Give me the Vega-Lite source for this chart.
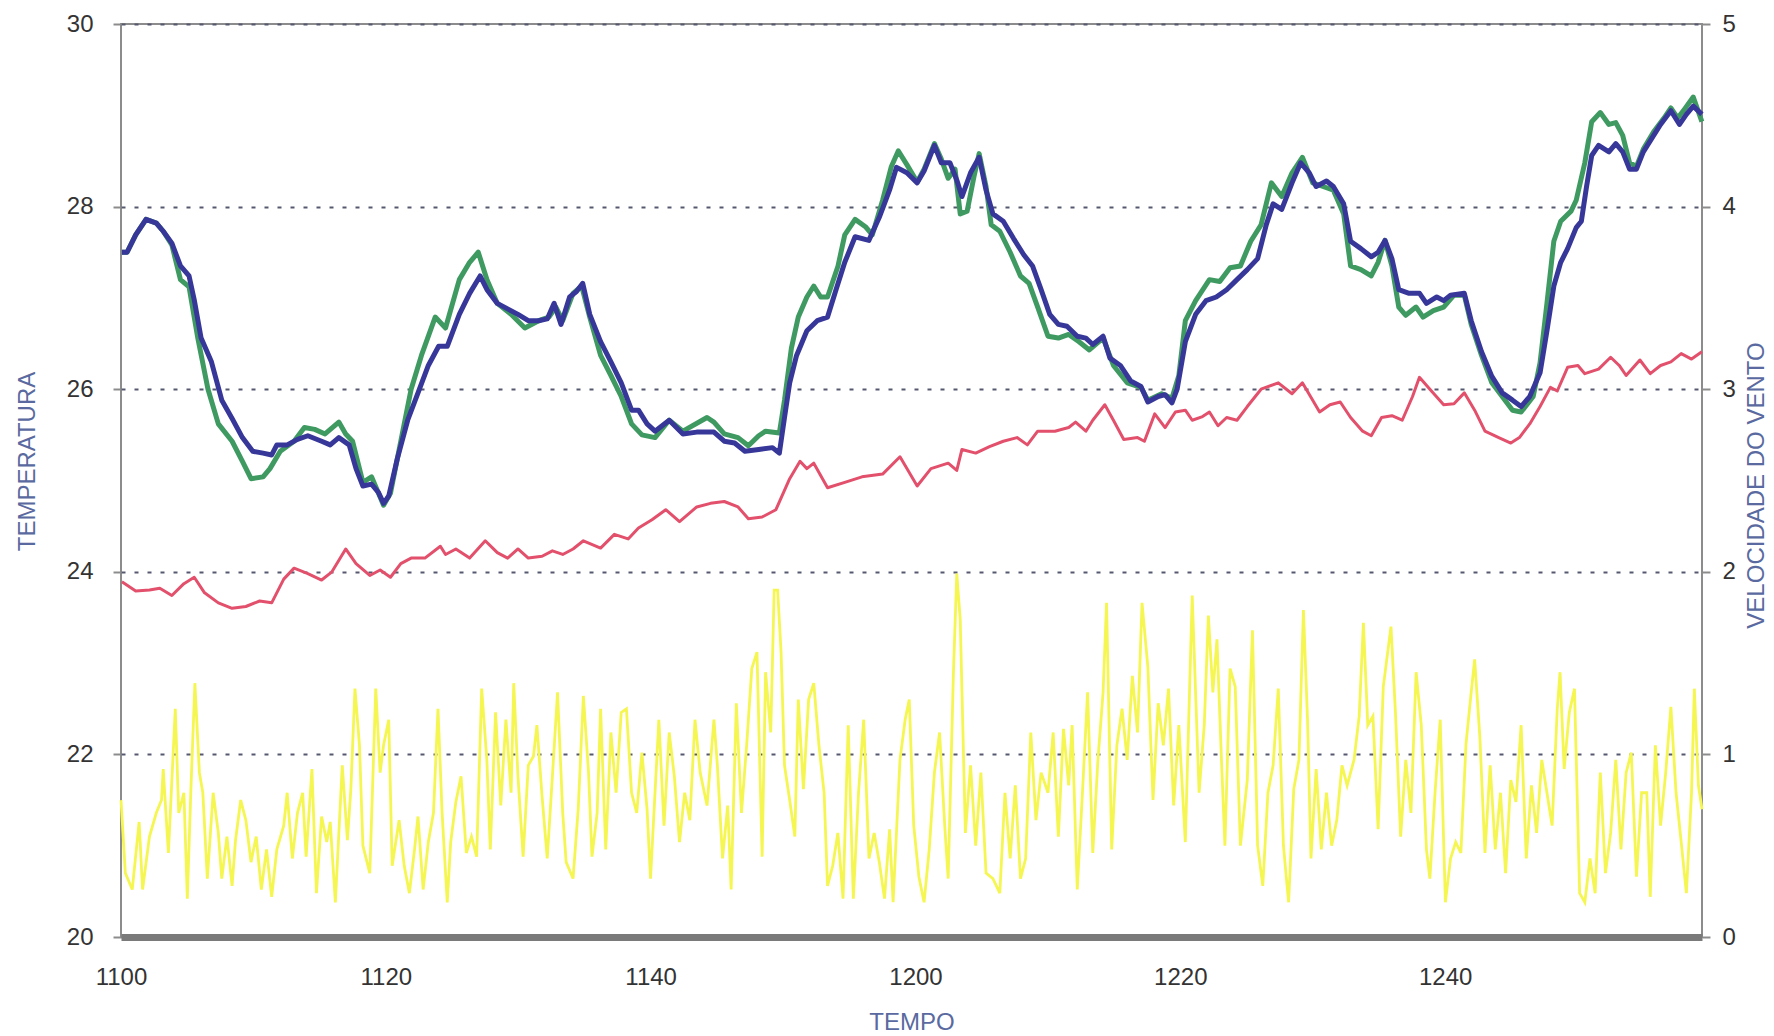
{
"$schema":"https://vega.github.io/schema/vega-lite/v6.json",
"width":1581,"height":913,
"autosize":{"type":"none"},
"padding":{"left":121,"top":24,"right":72,"bottom":99},
"background":"#ffffff",
"config":{"view":{"stroke":"#8c8c8c","strokeWidth":2},"font":"Liberation Sans"},
"datasets":{
"vento":[
{"t":0,"vento":0.75},{"t":0.33,"vento":0.35},{"t":0.85,"vento":0.26},{"t":1.37,"vento":0.63},{"t":1.63,"vento":0.26},{"t":2.15,"vento":0.55},{"t":2.67,"vento":0.68},{"t":3.06,"vento":0.75},{"t":3.19,"vento":0.92},{"t":3.58,"vento":0.46},{"t":4.10,"vento":1.25},{"t":4.36,"vento":0.68},{"t":4.75,"vento":0.79},{"t":5.01,"vento":0.21},{"t":5.27,"vento":0.79},{"t":5.58,"vento":1.39},{"t":5.92,"vento":0.90},{"t":6.18,"vento":0.79},{"t":6.52,"vento":0.32},{"t":6.96,"vento":0.79},{"t":7.35,"vento":0.57},{"t":7.61,"vento":0.32},{"t":8.00,"vento":0.55},{"t":8.39,"vento":0.28},{"t":8.65,"vento":0.53},{"t":9.04,"vento":0.75},{"t":9.43,"vento":0.64},{"t":9.82,"vento":0.41},{"t":10.21,"vento":0.55},{"t":10.60,"vento":0.26},{"t":10.99,"vento":0.48},{"t":11.38,"vento":0.22},{"t":11.77,"vento":0.48},{"t":12.29,"vento":0.61},{"t":12.55,"vento":0.79},{"t":12.94,"vento":0.43},{"t":13.33,"vento":0.68},{"t":13.72,"vento":0.79},{"t":13.98,"vento":0.44},{"t":14.42,"vento":0.92},{"t":14.76,"vento":0.24},{"t":15.15,"vento":0.66},{"t":15.54,"vento":0.52},{"t":15.80,"vento":0.63},{"t":16.19,"vento":0.19},{"t":16.71,"vento":0.94},{"t":17.10,"vento":0.53},{"t":17.36,"vento":0.81},{"t":17.67,"vento":1.36},{"t":18.01,"vento":1.05},{"t":18.27,"vento":0.50},{"t":18.79,"vento":0.35},{"t":19.24,"vento":1.36},{"t":19.57,"vento":0.90},{"t":19.83,"vento":1.05},{"t":20.22,"vento":1.19},{"t":20.48,"vento":0.39},{"t":21.00,"vento":0.64},{"t":21.39,"vento":0.39},{"t":21.78,"vento":0.24},{"t":22.17,"vento":0.48},{"t":22.43,"vento":0.66},{"t":22.82,"vento":0.26},{"t":23.21,"vento":0.52},{"t":23.60,"vento":0.68},{"t":23.94,"vento":1.25},{"t":24.25,"vento":0.68},{"t":24.64,"vento":0.19},{"t":24.90,"vento":0.52},{"t":25.29,"vento":0.74},{"t":25.68,"vento":0.88},{"t":26.08,"vento":0.46},{"t":26.47,"vento":0.55},{"t":26.86,"vento":0.44},{"t":27.24,"vento":1.36},{"t":27.63,"vento":0.97},{"t":27.89,"vento":0.48},{"t":28.29,"vento":1.23},{"t":28.68,"vento":0.72},{"t":29.07,"vento":1.19},{"t":29.46,"vento":0.79},{"t":29.66,"vento":1.39},{"t":29.98,"vento":0.88},{"t":30.37,"vento":0.44},{"t":30.76,"vento":0.94},{"t":31.15,"vento":0.99},{"t":31.41,"vento":1.16},{"t":31.80,"vento":0.77},{"t":32.19,"vento":0.43},{"t":32.58,"vento":0.88},{"t":32.97,"vento":1.34},{"t":33.36,"vento":0.68},{"t":33.62,"vento":0.41},{"t":34.14,"vento":0.32},{"t":34.53,"vento":0.70},{"t":34.92,"vento":1.32},{"t":35.31,"vento":0.90},{"t":35.57,"vento":0.44},{"t":35.96,"vento":0.68},{"t":36.22,"vento":1.25},{"t":36.61,"vento":0.48},{"t":37.00,"vento":1.12},{"t":37.39,"vento":0.79},{"t":37.78,"vento":1.23},{"t":38.17,"vento":1.25},{"t":38.56,"vento":0.79},{"t":38.95,"vento":0.68},{"t":39.34,"vento":1.01},{"t":39.73,"vento":0.70},{"t":39.99,"vento":0.32},
{"t":40.62,"vento":1.19},{"t":41.01,"vento":0.61},{"t":41.40,"vento":1.12},{"t":41.79,"vento":0.88},{"t":42.18,"vento":0.52},{"t":42.57,"vento":0.79},{"t":42.96,"vento":0.64},{"t":43.35,"vento":1.19},{"t":43.74,"vento":0.90},{"t":44.26,"vento":0.72},{"t":44.78,"vento":1.19},{"t":45.04,"vento":0.94},{"t":45.43,"vento":0.43},{"t":45.82,"vento":0.72},{"t":46.08,"vento":0.26},{"t":46.47,"vento":1.28},{"t":46.86,"vento":0.68},{"t":47.25,"vento":1.05},{"t":47.64,"vento":1.47},{"t":48.03,"vento":1.56},{"t":48.42,"vento":0.44},{"t":48.68,"vento":1.45},{"t":49.07,"vento":1.12},{"t":49.33,"vento":1.90},{"t":49.59,"vento":1.90},{"t":49.85,"vento":1.56},{"t":50.11,"vento":0.94},{"t":50.50,"vento":0.75},{"t":50.89,"vento":0.55},{"t":51.15,"vento":1.30},{"t":51.54,"vento":0.81},{"t":51.93,"vento":1.30},{"t":52.32,"vento":1.39},{"t":52.71,"vento":1.05},{"t":53.10,"vento":0.79},{"t":53.36,"vento":0.28},{"t":53.75,"vento":0.39},{"t":54.14,"vento":0.57},{"t":54.53,"vento":0.21},{"t":54.92,"vento":1.16},{"t":55.31,"vento":0.21},{"t":55.70,"vento":0.79},{"t":56.09,"vento":1.19},{"t":56.49,"vento":0.43},{"t":56.88,"vento":0.57},{"t":57.27,"vento":0.41},{"t":57.66,"vento":0.21},{"t":58.05,"vento":0.59},{"t":58.31,"vento":0.19},{"t":58.83,"vento":0.97},{"t":59.22,"vento":1.19},{"t":59.53,"vento":1.30},{"t":59.87,"vento":0.61},{"t":60.26,"vento":0.33},{"t":60.65,"vento":0.19},{"t":61.04,"vento":0.48},{"t":61.43,"vento":0.90},{"t":61.82,"vento":1.12},{"t":62.21,"vento":0.61},{"t":62.47,"vento":0.32},{"t":62.86,"vento":1.43},{"t":63.12,"vento":1.99},{"t":63.38,"vento":1.74},{"t":63.77,"vento":0.57},{"t":64.16,"vento":0.94},{"t":64.55,"vento":0.50},{"t":64.94,"vento":0.90},{"t":65.33,"vento":0.35},{"t":65.85,"vento":0.32},{"t":66.37,"vento":0.24},{"t":66.76,"vento":0.79},{"t":67.15,"vento":0.43},{"t":67.54,"vento":0.83},{"t":67.93,"vento":0.32},{"t":68.32,"vento":0.43},{"t":68.71,"vento":1.12},{"t":69.10,"vento":0.64},{"t":69.49,"vento":0.90},{"t":70.01,"vento":0.79},{"t":70.40,"vento":1.12},{"t":70.79,"vento":0.55},{"t":71.18,"vento":1.14},{"t":71.57,"vento":0.83},{"t":71.83,"vento":1.16},{"t":72.22,"vento":0.26},{"t":72.61,"vento":0.79},{"t":73.00,"vento":1.34},{"t":73.39,"vento":0.46},{"t":73.78,"vento":0.97},{"t":74.17,"vento":1.34},{"t":74.43,"vento":1.83},{"t":74.82,"vento":0.48},{"t":75.21,"vento":1.05},{"t":75.60,"vento":1.25},{"t":75.99,"vento":0.97},{"t":76.38,"vento":1.43},{"t":76.77,"vento":1.12},{"t":77.11,"vento":1.83},{"t":77.55,"vento":1.48},{"t":77.94,"vento":0.75},{"t":78.33,"vento":1.28},{"t":78.72,"vento":1.05},{"t":79.11,"vento":1.36},{"t":79.50,"vento":0.72},{"t":79.89,"vento":1.16},
{"t":80.38,"vento":0.52},{"t":80.90,"vento":1.87},{"t":81.42,"vento":0.79},{"t":81.81,"vento":1.16},{"t":82.12,"vento":1.76},{"t":82.46,"vento":1.34},{"t":82.77,"vento":1.63},{"t":83.11,"vento":0.97},{"t":83.37,"vento":0.50},{"t":83.76,"vento":1.47},{"t":84.15,"vento":1.37},{"t":84.54,"vento":0.50},{"t":85.06,"vento":0.86},{"t":85.45,"vento":1.68},{"t":85.84,"vento":0.50},{"t":86.23,"vento":0.28},{"t":86.62,"vento":0.79},{"t":87.01,"vento":0.94},{"t":87.40,"vento":1.36},{"t":87.79,"vento":0.50},{"t":88.18,"vento":0.19},{"t":88.57,"vento":0.81},{"t":88.96,"vento":0.97},{"t":89.30,"vento":1.79},{"t":89.61,"vento":1.19},{"t":89.87,"vento":0.43},{"t":90.26,"vento":0.92},{"t":90.65,"vento":0.48},{"t":91.04,"vento":0.79},{"t":91.43,"vento":0.50},{"t":91.82,"vento":0.64},{"t":92.21,"vento":0.94},{"t":92.60,"vento":0.83},{"t":93.12,"vento":0.97},{"t":93.51,"vento":1.21},{"t":93.83,"vento":1.72},{"t":94.16,"vento":1.16},{"t":94.55,"vento":1.21},{"t":94.94,"vento":0.59},{"t":95.33,"vento":1.37},{"t":95.91,"vento":1.70},{"t":96.25,"vento":1.23},{"t":96.64,"vento":0.55},{"t":97.03,"vento":0.97},{"t":97.42,"vento":0.68},{"t":97.81,"vento":1.45},{"t":98.20,"vento":1.16},{"t":98.59,"vento":0.48},{"t":98.85,"vento":0.32},{"t":99.24,"vento":0.79},{"t":99.63,"vento":1.19},{"t":100.02,"vento":0.19},{"t":100.41,"vento":0.43},{"t":100.80,"vento":0.52},{"t":101.19,"vento":0.46},{"t":101.58,"vento":1.06},{"t":101.97,"vento":1.34},{"t":102.23,"vento":1.52},{"t":102.62,"vento":1.10},{"t":103.01,"vento":0.46},{"t":103.40,"vento":0.94},{"t":103.79,"vento":0.48},{"t":104.18,"vento":0.79},{"t":104.57,"vento":0.35},{"t":104.96,"vento":0.86},{"t":105.35,"vento":0.74},{"t":105.74,"vento":1.16},{"t":106.13,"vento":0.43},{"t":106.52,"vento":0.83},{"t":106.91,"vento":0.57},{"t":107.30,"vento":0.97},{"t":107.69,"vento":0.79},{"t":108.08,"vento":0.61},{"t":108.47,"vento":1.25},{"t":108.68,"vento":1.45},{"t":108.99,"vento":0.92},{"t":109.38,"vento":1.23},{"t":109.77,"vento":1.36},{"t":110.16,"vento":0.24},{"t":110.55,"vento":0.19},{"t":110.94,"vento":0.43},{"t":111.33,"vento":0.24},{"t":111.72,"vento":0.90},{"t":112.11,"vento":0.35},{"t":112.50,"vento":0.57},{"t":112.89,"vento":0.97},{"t":113.28,"vento":0.48},{"t":113.67,"vento":0.90},{"t":114.06,"vento":1.01},{"t":114.45,"vento":0.33},{"t":114.84,"vento":0.79},{"t":115.23,"vento":0.79},{"t":115.49,"vento":0.22},{"t":115.88,"vento":1.05},{"t":116.27,"vento":0.61},{"t":116.66,"vento":0.90},{"t":117.05,"vento":1.26},{"t":117.44,"vento":0.79},{"t":117.83,"vento":0.52},{"t":118.22,"vento":0.24},{"t":118.61,"vento":0.79},{"t":118.82,"vento":1.36},{"t":119.13,"vento":0.83},{"t":119.4,"vento":0.70}
],
"temp":[
{"t":0.07,"serie":"G","temp":27.50},{"t":0.46,"serie":"G","temp":27.50},{"t":1.11,"serie":"G","temp":27.69},{"t":1.89,"serie":"G","temp":27.86},{"t":2.67,"serie":"G","temp":27.82},{"t":3.19,"serie":"G","temp":27.73},{"t":3.84,"serie":"G","temp":27.58},{"t":4.49,"serie":"G","temp":27.20},{"t":5.14,"serie":"G","temp":27.12},{"t":5.80,"serie":"G","temp":26.56},{"t":6.57,"serie":"G","temp":26.00},{"t":7.35,"serie":"G","temp":25.62},{"t":8.39,"serie":"G","temp":25.43},{"t":9.17,"serie":"G","temp":25.21},{"t":9.82,"serie":"G","temp":25.02},{"t":10.73,"serie":"G","temp":25.04},{"t":11.25,"serie":"G","temp":25.13},{"t":12.03,"serie":"G","temp":25.32},{"t":13.07,"serie":"G","temp":25.43},{"t":13.85,"serie":"G","temp":25.58},{"t":14.63,"serie":"G","temp":25.56},{"t":15.41,"serie":"G","temp":25.51},{"t":16.45,"serie":"G","temp":25.64},{"t":16.97,"serie":"G","temp":25.51},{"t":17.49,"serie":"G","temp":25.43},{"t":18.27,"serie":"G","temp":24.98},{"t":18.92,"serie":"G","temp":25.04},{"t":19.83,"serie":"G","temp":24.73},{"t":20.35,"serie":"G","temp":24.86},{"t":21.13,"serie":"G","temp":25.43},{"t":21.91,"serie":"G","temp":26.00},{"t":22.69,"serie":"G","temp":26.37},{"t":23.73,"serie":"G","temp":26.79},{"t":24.51,"serie":"G","temp":26.67},{"t":25.55,"serie":"G","temp":27.20},{"t":26.33,"serie":"G","temp":27.39},{"t":26.98,"serie":"G","temp":27.50},{"t":27.64,"serie":"G","temp":27.20},{"t":28.42,"serie":"G","temp":26.94},{"t":29.46,"serie":"G","temp":26.82},{"t":30.50,"serie":"G","temp":26.67},{"t":31.54,"serie":"G","temp":26.75},{"t":32.32,"serie":"G","temp":26.79},{"t":32.84,"serie":"G","temp":26.90},{"t":33.36,"serie":"G","temp":26.75},{"t":34.14,"serie":"G","temp":27.05},{"t":34.79,"serie":"G","temp":27.13},{"t":35.40,"serie":"G","temp":26.79},{"t":36.22,"serie":"G","temp":26.37},{"t":37.00,"serie":"G","temp":26.15},{"t":37.78,"serie":"G","temp":25.92},{"t":38.56,"serie":"G","temp":25.62},{"t":39.34,"serie":"G","temp":25.50},{"t":40.33,"serie":"G","temp":25.47},{"t":41.40,"serie":"G","temp":25.66},{"t":42.44,"serie":"G","temp":25.54},{"t":44.26,"serie":"G","temp":25.69},{"t":44.78,"serie":"G","temp":25.64},{"t":45.56,"serie":"G","temp":25.51},{"t":46.60,"serie":"G","temp":25.47},{"t":47.38,"serie":"G","temp":25.38},{"t":48.16,"serie":"G","temp":25.49},{"t":48.68,"serie":"G","temp":25.54},{"t":49.72,"serie":"G","temp":25.52},{"t":50.11,"serie":"G","temp":25.88},{"t":50.63,"serie":"G","temp":26.45},{"t":51.15,"serie":"G","temp":26.79},{"t":51.80,"serie":"G","temp":27.01},{"t":52.32,"serie":"G","temp":27.13},{"t":52.84,"serie":"G","temp":27.01},{"t":53.36,"serie":"G","temp":27.01},{"t":54.15,"serie":"G","temp":27.35},{"t":54.66,"serie":"G","temp":27.69},{"t":55.44,"serie":"G","temp":27.86},{"t":56.22,"serie":"G","temp":27.78},{"t":56.74,"serie":"G","temp":27.69},{"t":57.52,"serie":"G","temp":28.07},{"t":58.18,"serie":"G","temp":28.44},{"t":58.70,"serie":"G","temp":28.61},{"t":59.35,"serie":"G","temp":28.46},{"t":60.13,"serie":"G","temp":28.27},{"t":60.65,"serie":"G","temp":28.41},{"t":61.43,"serie":"G","temp":28.69},{"t":61.95,"serie":"G","temp":28.52},{"t":62.47,"serie":"G","temp":28.31},{"t":62.99,"serie":"G","temp":28.41},{"t":63.38,"serie":"G","temp":27.92},{"t":63.90,"serie":"G","temp":27.95},{"t":64.42,"serie":"G","temp":28.33},{"t":64.81,"serie":"G","temp":28.58},{"t":65.33,"serie":"G","temp":28.22},{"t":65.72,"serie":"G","temp":27.80},{"t":66.37,"serie":"G","temp":27.73},{"t":67.15,"serie":"G","temp":27.50},{"t":67.93,"serie":"G","temp":27.24},{"t":68.58,"serie":"G","temp":27.16},{"t":69.23,"serie":"G","temp":26.90},{"t":70.01,"serie":"G","temp":26.58},{"t":70.79,"serie":"G","temp":26.56},{"t":71.57,"serie":"G","temp":26.60},{"t":72.35,"serie":"G","temp":26.52},{"t":73.13,"serie":"G","temp":26.43},{"t":74.17,"serie":"G","temp":26.56},{"t":74.95,"serie":"G","temp":26.26},{"t":75.99,"serie":"G","temp":26.07},{"t":77.03,"serie":"G","temp":26.02},{"t":77.55,"serie":"G","temp":25.88},{"t":78.59,"serie":"G","temp":25.95},{"t":79.37,"serie":"G","temp":25.90},{"t":79.89,"serie":"G","temp":26.15},{"t":80.38,"serie":"G","temp":26.75},{"t":81.16,"serie":"G","temp":26.97},{"t":82.20,"serie":"G","temp":27.20},{"t":82.98,"serie":"G","temp":27.18},{"t":83.76,"serie":"G","temp":27.33},{"t":84.54,"serie":"G","temp":27.35},{"t":85.32,"serie":"G","temp":27.62},{"t":86.10,"serie":"G","temp":27.80},{"t":86.88,"serie":"G","temp":28.26},{"t":87.66,"serie":"G","temp":28.11},{"t":88.44,"serie":"G","temp":28.37},{"t":89.22,"serie":"G","temp":28.54},{"t":90.00,"serie":"G","temp":28.26},{"t":90.78,"serie":"G","temp":28.22},{"t":91.56,"serie":"G","temp":28.18},{"t":92.34,"serie":"G","temp":27.92},{"t":92.86,"serie":"G","temp":27.35},{"t":93.64,"serie":"G","temp":27.31},{"t":94.42,"serie":"G","temp":27.24},{"t":94.94,"serie":"G","temp":27.39},{"t":95.46,"serie":"G","temp":27.63},{"t":95.98,"serie":"G","temp":27.35},{"t":96.50,"serie":"G","temp":26.90},{"t":97.02,"serie":"G","temp":26.81},{"t":97.80,"serie":"G","temp":26.90},{"t":98.33,"serie":"G","temp":26.79},{"t":99.11,"serie":"G","temp":26.86},{"t":99.89,"serie":"G","temp":26.90},{"t":100.67,"serie":"G","temp":27.03},{"t":101.45,"serie":"G","temp":27.03},{"t":101.97,"serie":"G","temp":26.71},{"t":102.75,"serie":"G","temp":26.37},{"t":103.53,"serie":"G","temp":26.07},{"t":104.31,"serie":"G","temp":25.92},{"t":105.09,"serie":"G","temp":25.77},{"t":105.74,"serie":"G","temp":25.75},{"t":106.65,"serie":"G","temp":25.92},{"t":107.17,"serie":"G","temp":26.29},{"t":107.69,"serie":"G","temp":26.94},{"t":108.21,"serie":"G","temp":27.62},{"t":108.73,"serie":"G","temp":27.84},{"t":109.51,"serie":"G","temp":27.95},{"t":109.90,"serie":"G","temp":28.07},{"t":110.55,"serie":"G","temp":28.48},{"t":111.07,"serie":"G","temp":28.93},{"t":111.72,"serie":"G","temp":29.03},{"t":112.37,"serie":"G","temp":28.90},{"t":112.89,"serie":"G","temp":28.92},{"t":113.41,"serie":"G","temp":28.78},{"t":113.93,"serie":"G","temp":28.48},{"t":114.45,"serie":"G","temp":28.44},{"t":114.97,"serie":"G","temp":28.63},{"t":115.75,"serie":"G","temp":28.82},{"t":116.53,"serie":"G","temp":28.97},{"t":117.05,"serie":"G","temp":29.08},{"t":117.57,"serie":"G","temp":28.97},{"t":118.09,"serie":"G","temp":29.07},{"t":118.74,"serie":"G","temp":29.20},{"t":119.39,"serie":"G","temp":28.93},
{"t":0.07,"serie":"B","temp":27.50},{"t":0.46,"serie":"B","temp":27.50},{"t":1.11,"serie":"B","temp":27.69},{"t":1.89,"serie":"B","temp":27.86},{"t":2.67,"serie":"B","temp":27.82},{"t":3.19,"serie":"B","temp":27.73},{"t":3.84,"serie":"B","temp":27.60},{"t":4.49,"serie":"B","temp":27.35},{"t":5.14,"serie":"B","temp":27.24},{"t":5.53,"serie":"B","temp":26.98},{"t":6.05,"serie":"B","temp":26.56},{"t":6.83,"serie":"B","temp":26.30},{"t":7.61,"serie":"B","temp":25.88},{"t":8.39,"serie":"B","temp":25.68},{"t":9.17,"serie":"B","temp":25.47},{"t":9.95,"serie":"B","temp":25.32},{"t":10.73,"serie":"B","temp":25.30},{"t":11.38,"serie":"B","temp":25.28},{"t":11.77,"serie":"B","temp":25.39},{"t":12.55,"serie":"B","temp":25.39},{"t":13.33,"serie":"B","temp":25.45},{"t":14.11,"serie":"B","temp":25.49},{"t":15.15,"serie":"B","temp":25.43},{"t":15.80,"serie":"B","temp":25.39},{"t":16.45,"serie":"B","temp":25.47},{"t":17.23,"serie":"B","temp":25.39},{"t":17.75,"serie":"B","temp":25.13},{"t":18.27,"serie":"B","temp":24.94},{"t":18.92,"serie":"B","temp":24.96},{"t":19.44,"serie":"B","temp":24.87},{"t":19.83,"serie":"B","temp":24.75},{"t":20.22,"serie":"B","temp":24.83},{"t":20.87,"serie":"B","temp":25.24},{"t":21.65,"serie":"B","temp":25.66},{"t":22.43,"serie":"B","temp":25.96},{"t":23.21,"serie":"B","temp":26.26},{"t":23.99,"serie":"B","temp":26.47},{"t":24.64,"serie":"B","temp":26.47},{"t":25.55,"serie":"B","temp":26.82},{"t":26.33,"serie":"B","temp":27.05},{"t":27.12,"serie":"B","temp":27.24},{"t":27.64,"serie":"B","temp":27.09},{"t":28.42,"serie":"B","temp":26.94},{"t":29.20,"serie":"B","temp":26.88},{"t":29.98,"serie":"B","temp":26.82},{"t":30.76,"serie":"B","temp":26.75},{"t":31.54,"serie":"B","temp":26.75},{"t":32.19,"serie":"B","temp":26.77},{"t":32.71,"serie":"B","temp":26.94},{"t":33.23,"serie":"B","temp":26.71},{"t":33.88,"serie":"B","temp":27.01},{"t":34.40,"serie":"B","temp":27.07},{"t":34.87,"serie":"B","temp":27.16},{"t":35.40,"serie":"B","temp":26.82},{"t":36.22,"serie":"B","temp":26.52},{"t":37.00,"serie":"B","temp":26.30},{"t":37.78,"serie":"B","temp":26.07},{"t":38.56,"serie":"B","temp":25.77},{"t":39.08,"serie":"B","temp":25.77},{"t":39.73,"serie":"B","temp":25.62},{"t":40.33,"serie":"B","temp":25.54},{"t":41.40,"serie":"B","temp":25.66},{"t":42.44,"serie":"B","temp":25.51},{"t":43.48,"serie":"B","temp":25.53},{"t":44.78,"serie":"B","temp":25.53},{"t":45.56,"serie":"B","temp":25.43},{"t":46.34,"serie":"B","temp":25.41},{"t":47.12,"serie":"B","temp":25.32},{"t":48.16,"serie":"B","temp":25.34},{"t":49.20,"serie":"B","temp":25.36},{"t":49.72,"serie":"B","temp":25.30},{"t":50.11,"serie":"B","temp":25.69},{"t":50.50,"serie":"B","temp":26.07},{"t":51.02,"serie":"B","temp":26.37},{"t":51.80,"serie":"B","temp":26.64},{"t":52.58,"serie":"B","temp":26.75},{"t":53.36,"serie":"B","temp":26.79},{"t":54.00,"serie":"B","temp":27.09},{"t":54.66,"serie":"B","temp":27.39},{"t":55.44,"serie":"B","temp":27.67},{"t":56.48,"serie":"B","temp":27.63},{"t":57.26,"serie":"B","temp":27.88},{"t":58.04,"serie":"B","temp":28.18},{"t":58.57,"serie":"B","temp":28.43},{"t":59.35,"serie":"B","temp":28.37},{"t":60.13,"serie":"B","temp":28.26},{"t":60.65,"serie":"B","temp":28.39},{"t":61.43,"serie":"B","temp":28.67},{"t":61.95,"serie":"B","temp":28.48},{"t":62.60,"serie":"B","temp":28.48},{"t":63.12,"serie":"B","temp":28.29},{"t":63.51,"serie":"B","temp":28.11},{"t":64.16,"serie":"B","temp":28.37},{"t":64.81,"serie":"B","temp":28.54},{"t":65.33,"serie":"B","temp":28.18},{"t":65.85,"serie":"B","temp":27.92},{"t":66.63,"serie":"B","temp":27.84},{"t":67.41,"serie":"B","temp":27.65},{"t":68.19,"serie":"B","temp":27.47},{"t":68.84,"serie":"B","temp":27.35},{"t":69.49,"serie":"B","temp":27.09},{"t":70.14,"serie":"B","temp":26.82},{"t":70.79,"serie":"B","temp":26.71},{"t":71.44,"serie":"B","temp":26.69},{"t":72.22,"serie":"B","temp":26.58},{"t":72.87,"serie":"B","temp":26.56},{"t":73.39,"serie":"B","temp":26.49},{"t":74.17,"serie":"B","temp":26.58},{"t":74.69,"serie":"B","temp":26.34},{"t":75.47,"serie":"B","temp":26.26},{"t":76.25,"serie":"B","temp":26.09},{"t":77.03,"serie":"B","temp":26.03},{"t":77.55,"serie":"B","temp":25.86},{"t":78.33,"serie":"B","temp":25.92},{"t":78.85,"serie":"B","temp":25.94},{"t":79.37,"serie":"B","temp":25.85},{"t":79.76,"serie":"B","temp":26.00},{"t":80.38,"serie":"B","temp":26.52},{"t":81.16,"serie":"B","temp":26.82},{"t":81.94,"serie":"B","temp":26.97},{"t":82.72,"serie":"B","temp":27.01},{"t":83.50,"serie":"B","temp":27.09},{"t":84.28,"serie":"B","temp":27.20},{"t":85.06,"serie":"B","temp":27.31},{"t":85.84,"serie":"B","temp":27.43},{"t":86.49,"serie":"B","temp":27.80},{"t":87.01,"serie":"B","temp":28.03},{"t":87.66,"serie":"B","temp":27.97},{"t":88.44,"serie":"B","temp":28.26},{"t":89.09,"serie":"B","temp":28.48},{"t":89.74,"serie":"B","temp":28.37},{"t":90.26,"serie":"B","temp":28.22},{"t":91.04,"serie":"B","temp":28.28},{"t":91.56,"serie":"B","temp":28.22},{"t":92.34,"serie":"B","temp":28.03},{"t":92.86,"serie":"B","temp":27.62},{"t":93.64,"serie":"B","temp":27.54},{"t":94.42,"serie":"B","temp":27.45},{"t":94.94,"serie":"B","temp":27.50},{"t":95.46,"serie":"B","temp":27.63},{"t":95.98,"serie":"B","temp":27.43},{"t":96.50,"serie":"B","temp":27.09},{"t":97.28,"serie":"B","temp":27.05},{"t":98.07,"serie":"B","temp":27.05},{"t":98.59,"serie":"B","temp":26.94},{"t":99.37,"serie":"B","temp":27.01},{"t":99.89,"serie":"B","temp":26.97},{"t":100.41,"serie":"B","temp":27.03},{"t":101.45,"serie":"B","temp":27.05},{"t":101.97,"serie":"B","temp":26.75},{"t":102.75,"serie":"B","temp":26.41},{"t":103.53,"serie":"B","temp":26.14},{"t":104.31,"serie":"B","temp":25.96},{"t":105.09,"serie":"B","temp":25.88},{"t":105.74,"serie":"B","temp":25.81},{"t":106.39,"serie":"B","temp":25.92},{"t":107.17,"serie":"B","temp":26.18},{"t":107.69,"serie":"B","temp":26.64},{"t":108.21,"serie":"B","temp":27.13},{"t":108.73,"serie":"B","temp":27.39},{"t":109.25,"serie":"B","temp":27.54},{"t":109.90,"serie":"B","temp":27.77},{"t":110.29,"serie":"B","temp":27.84},{"t":110.68,"serie":"B","temp":28.22},{"t":111.07,"serie":"B","temp":28.56},{"t":111.59,"serie":"B","temp":28.67},{"t":112.37,"serie":"B","temp":28.60},{"t":112.89,"serie":"B","temp":28.69},{"t":113.41,"serie":"B","temp":28.60},{"t":113.93,"serie":"B","temp":28.41},{"t":114.45,"serie":"B","temp":28.41},{"t":114.97,"serie":"B","temp":28.60},{"t":115.62,"serie":"B","temp":28.75},{"t":116.27,"serie":"B","temp":28.90},{"t":117.05,"serie":"B","temp":29.05},{"t":117.70,"serie":"B","temp":28.90},{"t":118.22,"serie":"B","temp":29.01},{"t":118.74,"serie":"B","temp":29.10},{"t":119.39,"serie":"B","temp":29.01},
{"t":0.07,"serie":"R","temp":23.89},{"t":1.11,"serie":"R","temp":23.79},{"t":2.15,"serie":"R","temp":23.80},{"t":2.93,"serie":"R","temp":23.82},{"t":3.84,"serie":"R","temp":23.74},{"t":4.75,"serie":"R","temp":23.87},{"t":5.53,"serie":"R","temp":23.94},{"t":6.31,"serie":"R","temp":23.77},{"t":7.35,"serie":"R","temp":23.66},{"t":8.39,"serie":"R","temp":23.60},{"t":9.43,"serie":"R","temp":23.62},{"t":10.47,"serie":"R","temp":23.68},{"t":11.38,"serie":"R","temp":23.66},{"t":12.29,"serie":"R","temp":23.92},{"t":13.07,"serie":"R","temp":24.04},{"t":14.11,"serie":"R","temp":23.98},{"t":15.15,"serie":"R","temp":23.91},{"t":15.93,"serie":"R","temp":24.00},{"t":16.97,"serie":"R","temp":24.25},{"t":17.75,"serie":"R","temp":24.09},{"t":18.79,"serie":"R","temp":23.96},{"t":19.57,"serie":"R","temp":24.02},{"t":20.35,"serie":"R","temp":23.94},{"t":21.13,"serie":"R","temp":24.09},{"t":21.91,"serie":"R","temp":24.15},{"t":22.95,"serie":"R","temp":24.15},{"t":24.12,"serie":"R","temp":24.28},{"t":24.51,"serie":"R","temp":24.19},{"t":25.29,"serie":"R","temp":24.25},{"t":26.33,"serie":"R","temp":24.15},{"t":27.51,"serie":"R","temp":24.34},{"t":28.42,"serie":"R","temp":24.21},{"t":29.20,"serie":"R","temp":24.15},{"t":29.98,"serie":"R","temp":24.25},{"t":30.76,"serie":"R","temp":24.15},{"t":31.80,"serie":"R","temp":24.17},{"t":32.58,"serie":"R","temp":24.23},{"t":33.36,"serie":"R","temp":24.19},{"t":34.14,"serie":"R","temp":24.25},{"t":34.92,"serie":"R","temp":24.34},{"t":36.22,"serie":"R","temp":24.26},{"t":37.26,"serie":"R","temp":24.41},{"t":38.30,"serie":"R","temp":24.36},{"t":39.08,"serie":"R","temp":24.48},{"t":40.10,"serie":"R","temp":24.57},{"t":41.14,"serie":"R","temp":24.68},{"t":42.18,"serie":"R","temp":24.55},{"t":43.48,"serie":"R","temp":24.71},{"t":44.52,"serie":"R","temp":24.75},{"t":45.56,"serie":"R","temp":24.77},{"t":46.60,"serie":"R","temp":24.71},{"t":47.38,"serie":"R","temp":24.58},{"t":48.42,"serie":"R","temp":24.60},{"t":49.46,"serie":"R","temp":24.68},{"t":50.50,"serie":"R","temp":25.02},{"t":51.28,"serie":"R","temp":25.21},{"t":51.80,"serie":"R","temp":25.13},{"t":52.32,"serie":"R","temp":25.19},{"t":53.36,"serie":"R","temp":24.92},{"t":54.66,"serie":"R","temp":24.98},{"t":55.96,"serie":"R","temp":25.04},{"t":57.52,"serie":"R","temp":25.07},{"t":58.83,"serie":"R","temp":25.26},{"t":60.13,"serie":"R","temp":24.94},{"t":61.17,"serie":"R","temp":25.13},{"t":62.47,"serie":"R","temp":25.19},{"t":63.12,"serie":"R","temp":25.11},{"t":63.51,"serie":"R","temp":25.34},{"t":64.55,"serie":"R","temp":25.30},{"t":65.59,"serie":"R","temp":25.37},{"t":66.63,"serie":"R","temp":25.43},{"t":67.67,"serie":"R","temp":25.47},{"t":68.45,"serie":"R","temp":25.39},{"t":69.23,"serie":"R","temp":25.54},{"t":70.53,"serie":"R","temp":25.54},{"t":71.57,"serie":"R","temp":25.58},{"t":72.09,"serie":"R","temp":25.64},{"t":72.87,"serie":"R","temp":25.54},{"t":73.39,"serie":"R","temp":25.66},{"t":74.30,"serie":"R","temp":25.83},{"t":74.95,"serie":"R","temp":25.66},{"t":75.73,"serie":"R","temp":25.45},{"t":76.77,"serie":"R","temp":25.47},{"t":77.29,"serie":"R","temp":25.43},{"t":78.07,"serie":"R","temp":25.73},{"t":78.85,"serie":"R","temp":25.58},{"t":79.63,"serie":"R","temp":25.75},{"t":80.38,"serie":"R","temp":25.77},{"t":80.90,"serie":"R","temp":25.66},{"t":81.68,"serie":"R","temp":25.70},{"t":82.20,"serie":"R","temp":25.75},{"t":82.85,"serie":"R","temp":25.60},{"t":83.50,"serie":"R","temp":25.69},{"t":84.28,"serie":"R","temp":25.66},{"t":85.06,"serie":"R","temp":25.81},{"t":86.10,"serie":"R","temp":26.00},{"t":87.40,"serie":"R","temp":26.07},{"t":88.44,"serie":"R","temp":25.95},{"t":89.22,"serie":"R","temp":26.07},{"t":90.00,"serie":"R","temp":25.88},{"t":90.52,"serie":"R","temp":25.75},{"t":91.30,"serie":"R","temp":25.83},{"t":92.08,"serie":"R","temp":25.86},{"t":92.86,"serie":"R","temp":25.69},{"t":93.77,"serie":"R","temp":25.54},{"t":94.42,"serie":"R","temp":25.49},{"t":95.20,"serie":"R","temp":25.69},{"t":95.98,"serie":"R","temp":25.71},{"t":96.76,"serie":"R","temp":25.66},{"t":97.54,"serie":"R","temp":25.92},{"t":98.06,"serie":"R","temp":26.13},{"t":98.85,"serie":"R","temp":26.00},{"t":99.89,"serie":"R","temp":25.83},{"t":100.67,"serie":"R","temp":25.84},{"t":101.45,"serie":"R","temp":25.96},{"t":102.23,"serie":"R","temp":25.77},{"t":103.01,"serie":"R","temp":25.54},{"t":104.05,"serie":"R","temp":25.47},{"t":104.96,"serie":"R","temp":25.41},{"t":105.61,"serie":"R","temp":25.47},{"t":106.39,"serie":"R","temp":25.62},{"t":107.17,"serie":"R","temp":25.81},{"t":107.95,"serie":"R","temp":26.02},{"t":108.47,"serie":"R","temp":25.98},{"t":109.25,"serie":"R","temp":26.24},{"t":110.03,"serie":"R","temp":26.26},{"t":110.55,"serie":"R","temp":26.17},{"t":111.59,"serie":"R","temp":26.22},{"t":112.50,"serie":"R","temp":26.35},{"t":113.15,"serie":"R","temp":26.26},{"t":113.67,"serie":"R","temp":26.15},{"t":114.71,"serie":"R","temp":26.32},{"t":115.49,"serie":"R","temp":26.17},{"t":116.27,"serie":"R","temp":26.26},{"t":117.05,"serie":"R","temp":26.30},{"t":117.83,"serie":"R","temp":26.39},{"t":118.61,"serie":"R","temp":26.33},{"t":119.39,"serie":"R","temp":26.41}
]
},
"layer":[
{
"data":{"name":"vento"},
"mark":{"type":"line","color":"#f6f652","strokeWidth":2.8},
"encoding":{
"x":{"field":"t","type":"quantitative","scale":{"domain":[0,119.4],"nice":false,"zero":false},
"axis":{"values":[0,20,40,60,80,100],"labelExpr":"(11 + floor(datum.value/60)) + '' + (datum.value % 60 < 10 ? '0' : '') + (datum.value % 60)","title":"TEMPO","grid":false,"ticks":false,"tickSize":0,"domainColor":"#7a7a7a","domainWidth":7,"labelFontSize":24,"labelColor":"#333333","labelPadding":28,"labelFlush":false,"titleFontSize":24,"titleColor":"#5a6aa0","titleFontWeight":"normal","titleY":85,"titleBaseline":"middle"}},
"y":{"field":"vento","type":"quantitative","scale":{"domain":[0,5],"nice":false},
"axis":{"orient":"right","values":[0,1,2,3,4,5],"grid":false,"domain":false,"tickSize":8,"tickColor":"#8c8c8c","tickWidth":2,"labelPadding":12,"labelFontSize":24,"labelColor":"#333333","labelFlush":false,"title":"VELOCIDADE DO VENTO","titleAngle":270,"titleX":54,"titleY":461,"titleBaseline":"middle","titleFontSize":24,"titleColor":"#5a6aa0","titleFontWeight":"normal"}}
}
},
{
"data":{"name":"temp"},
"encoding":{
"x":{"field":"t","type":"quantitative","scale":{"domain":[0,119.4],"nice":false,"zero":false}},
"y":{"field":"temp","type":"quantitative","scale":{"domain":[20,30],"nice":false,"zero":false},
"axis":{"orient":"left","values":[20,22,24,26,28,30],"grid":true,"gridDash":[4,9],"gridColor":"#55586e","gridWidth":2,"domain":false,"tickSize":8,"tickColor":"#8c8c8c","tickWidth":2,"labelPadding":20,"labelFontSize":24,"labelColor":"#333333","labelFlush":false,"title":"TEMPERATURA","titleX":-94,"titleY":437,"titleBaseline":"middle","titleFontSize":24,"titleColor":"#5a6aa0","titleFontWeight":"normal"}}
},
"layer":[
{"transform":[{"filter":"datum.serie == 'G'"}],"mark":{"type":"line","color":"#3f9a62","strokeWidth":5,"strokeJoin":"round"}},
{"transform":[{"filter":"datum.serie == 'B'"}],"mark":{"type":"line","color":"#37379a","strokeWidth":5,"strokeJoin":"round"}},
{"transform":[{"filter":"datum.serie == 'R'"}],"mark":{"type":"line","color":"#e2506c","strokeWidth":3,"strokeJoin":"round"}}
]
}
],
"resolve":{"scale":{"y":"independent"}}
}
